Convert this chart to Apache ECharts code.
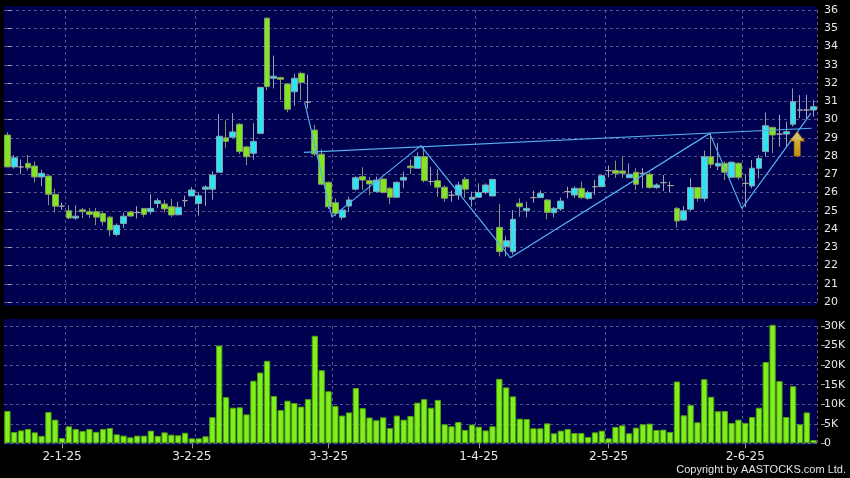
<!DOCTYPE html>
<html><head><meta charset="utf-8">
<script src="https://cdn.jsdelivr.net/npm/echarts@6/dist/echarts.min.js"></script>
<style>html,body{margin:0;padding:0;background:#000;}#c{width:850px;height:478px;}</style>
</head><body><div id="c"></div>
<script>
// ---- data ----
const open  = [29.15,27.4,27.4,27.6,27.45,26.85,26.9,25.9,25.25,25.0,24.6,25.05,24.95,24.95,24.85,24.65,23.7,24.3,24.93,24.9,
25.13,24.95,25.4,25.37,25.22,24.78,25.55,25.81,25.4,26.18,26.18,27.11,29.0,29.03,29.74,28.5,28.15,29.24,35.55,32.26,
32.3,31.95,31.52,32.53,30.95,29.42,28.1,26.56,25.44,24.64,25.26,26.18,26.87,26.65,26.05,26.74,26.23,25.74,26.68,27.45,
27.33,27.96,26.6,26.65,26.29,25.85,25.86,26.72,25.63,25.74,26.0,25.81,24.09,23.03,22.76,25.41,25.0,25.72,25.72,25.59,
24.89,25.1,26.05,25.86,26.23,25.68,26.32,26.32,27.2,27.21,27.18,26.81,27.11,27.05,27.0,26.27,26.54,26.38,25.13,24.49,
25.08,26.27,25.68,27.96,27.45,27.6,26.83,27.6,26.5,26.36,27.33,28.24,29.57,29.2,29.2,29.74,30.52,30.52,30.52];
const close = [27.4,27.9,27.4,27.35,26.85,27.05,25.9,25.25,25.25,24.6,24.7,24.95,24.8,24.65,24.4,23.95,24.2,24.7,24.71,24.9,
24.8,25.13,25.55,25.1,24.77,25.19,25.55,26.14,25.82,26.3,26.96,29.08,28.8,29.32,28.24,27.96,28.8,31.76,31.8,32.37,
32.2,30.56,32.26,32.03,30.95,28.11,26.45,25.22,24.86,25.04,25.59,26.81,26.68,26.47,26.68,26.0,25.74,26.56,26.83,27.35,
27.96,26.65,26.6,26.29,25.68,25.85,26.41,26.18,25.74,26.0,26.41,26.72,22.76,23.36,24.53,25.22,25.13,25.72,25.95,24.91,
25.13,25.53,26.05,26.23,25.72,26.0,26.32,26.92,27.2,27.05,27.05,27.0,26.45,27.05,26.27,26.41,26.54,26.38,24.44,25.0,
26.27,25.68,27.96,27.55,27.6,27.11,27.66,26.83,26.5,27.33,27.87,29.66,29.15,29.2,29.33,30.98,30.52,30.52,30.7];
const low   = [27.4,27.3,27.0,27.2,26.55,26.35,25.3,24.9,25.05,24.55,24.5,24.6,24.6,24.2,24.2,23.6,23.6,24.05,24.65,24.58,
24.65,24.8,25.15,24.9,24.65,24.75,25.22,25.8,24.73,25.26,25.6,27.1,28.45,29.0,28.1,27.5,27.8,29.2,31.6,31.7,
31.07,30.4,30.75,31.07,30.6,28.0,26.4,25.1,24.7,24.5,24.95,26.1,26.14,25.86,26.0,25.95,25.37,25.7,26.23,27.0,
27.3,26.55,26.4,25.77,25.5,25.5,25.6,25.7,25.22,25.7,25.9,25.8,22.5,22.5,22.6,24.67,24.64,25.44,25.7,24.53,
24.64,25.0,25.68,25.7,25.65,25.6,25.86,26.3,26.83,26.8,26.8,26.8,26.14,26.23,26.2,26.2,26.08,26.0,24.08,24.45,
25.0,25.5,25.5,27.33,27.23,26.68,26.8,26.7,25.2,26.23,26.78,27.96,28.16,28.51,28.5,29.61,30.07,30.0,30.15];
const high  = [29.3,28.05,27.8,28.05,27.7,27.25,26.95,26.2,25.45,25.3,25.3,25.15,25.15,25.15,24.95,24.7,24.3,24.9,25.0,25.25,
25.15,25.9,25.7,25.6,25.65,25.5,25.82,26.3,26.0,26.4,27.16,30.3,29.95,30.35,29.8,28.55,29.8,31.8,35.6,33.5,
32.35,32.0,32.5,32.62,32.45,29.7,28.37,26.6,25.68,25.1,25.77,26.9,27.38,26.85,26.87,26.8,26.3,26.6,27.14,27.8,
28.2,28.55,27.4,27.27,26.4,26.1,26.6,26.85,26.05,26.5,26.5,26.75,25.37,23.6,25.04,25.68,25.5,26.1,26.1,25.65,
25.2,25.72,26.32,26.35,26.6,26.1,26.68,27.0,27.47,27.75,27.96,27.6,27.33,27.33,27.1,26.5,26.96,26.6,25.2,25.26,
26.78,26.3,28.29,29.24,28.7,27.7,27.7,27.65,27.0,27.78,28.05,30.39,29.6,30.25,29.88,31.71,31.34,31.34,31.07];
// volume in thousands of shares
const volumeK = [8.27,2.9,3.3,3.67,2.8,1.9,8.0,6.05,1.36,4.35,3.67,3.15,3.67,2.9,3.67,3.9,2.3,1.96,1.53,1.96,
1.96,3.24,1.9,2.8,2.2,2.05,2.7,1.28,1.28,1.8,6.7,25.0,11.8,9.1,9.2,7.4,16.0,18.1,21.1,12.1,
8.5,10.9,10.3,9.4,11.3,27.5,18.7,13.3,9.55,7.1,7.9,14.15,9.0,6.6,5.9,6.65,3.9,7.1,6.05,7.0,
10.4,11.3,9.1,11.1,4.86,4.35,5.45,3.4,4.8,4.26,3.3,4.35,16.5,14.3,12.0,6.3,6.2,3.84,3.84,5.1,
2.56,3.24,3.67,2.64,2.64,1.62,2.8,3.24,1.28,4.18,4.6,2.56,4.0,4.86,5.03,3.4,3.5,2.9,15.8,7.16,
9.8,5.37,16.4,11.9,8.2,8.27,5.2,6.05,5.2,6.73,9.1,20.8,30.3,15.9,6.73,14.6,4.86,7.9,0.85];
const xTickIndex  = [8, 27, 47, 69, 88, 108];
const xTickLabels = ['2-1-25','3-2-25','3-3-25','1-4-25','2-5-25','2-6-25'];
const monthLineIndex = [9, 28, 48, 69, 88, 108];
const priceMin = 20, priceMax = 36, priceStep = 1;
const volMin = 0, volMax = 30000, volStep = 5000;
// drawn trend lines: [candle index, price]
const resistanceLine = [[43.4, 28.2], [117.7, 29.52]];
const zigzagLine = [[43.5, 30.94], [47.5, 24.65], [60.5, 28.57], [73.6, 22.43], [102.8, 29.24], [107.5, 25.13], [117.6, 30.34]];
const signalArrow = [[115.6, 28.66]];

// ---- build ----
const N = open.length;
const categories = open.map((_, i) => String(i));
const candleData = open.map((o, i) => [o, close[i], low[i], high[i]]);
const volumeData = volumeK.map(v => v * 1000);

const NAVY = '#000050';
const GRIDC = '#55558a';
const dash = { color: GRIDC, width: 1, type: [3, 3] };
const labelColor = '#e8e8e8';

const chart = echarts.init(document.getElementById('c'), null, { renderer: 'canvas' });
chart.setOption({
  animation: false,
  backgroundColor: '#000000',
  graphic: [
    { type: 'rect', z: -10, shape: { x: 4, y: 6, width: 813, height: 300 }, style: { fill: NAVY } },
    { type: 'rect', z: -10, shape: { x: 4, y: 319, width: 813, height: 126 }, style: { fill: NAVY } },
    { type: 'text', right: 4, top: 464, z: 10,
      style: { text: 'Copyright by AASTOCKS.com Ltd.', fill: '#e4e4e4', font: '11px "Liberation Sans", Arial, sans-serif' } }
  ],
  grid: [
    { left: 4, right: 33, top: 10, height: 292 },
    { left: 4, right: 33, top: 326, height: 117.3 }
  ],
  xAxis: [
    { type: 'category', gridIndex: 0, data: categories, boundaryGap: true,
      axisLine: { show: false }, axisTick: { show: false }, axisLabel: { show: false },
      splitLine: { show: true, interval: (i) => monthLineIndex.includes(i), lineStyle: dash } },
    { type: 'value', gridIndex: 0, min: -0.5, max: N - 0.5, show: false },
    { type: 'category', gridIndex: 1, data: categories, boundaryGap: true,
      axisLine: { show: false },
      axisTick: { show: true, alignWithLabel: true, length: 5, interval: (i) => xTickIndex.includes(i), lineStyle: { color: '#9a9a9a' } },
      axisLabel: { show: true, interval: (i) => xTickIndex.includes(i), margin: 8, color: labelColor,
        fontFamily: 'DejaVu Sans', fontSize: 12,
        formatter: (v, i) => { const k = xTickIndex.indexOf(Number(v)); return k >= 0 ? xTickLabels[k] : ''; } },
      splitLine: { show: true, interval: (i) => monthLineIndex.includes(i), lineStyle: dash } }
  ],
  yAxis: [
    { type: 'value', gridIndex: 0, position: 'right', offset: 4, min: priceMin, max: priceMax, interval: priceStep,
      axisLine: { show: false },
      axisTick: { show: true, length: 4, lineStyle: { color: '#a8a8a8' } },
      axisLabel: { color: labelColor, fontFamily: 'DejaVu Sans', fontSize: 11, margin: 3 },
      splitLine: { show: true, lineStyle: dash } },
    { type: 'value', gridIndex: 1, position: 'right', offset: 4, min: volMin, max: volMax, interval: volStep,
      axisLine: { show: false },
      axisTick: { show: true, length: 4, lineStyle: { color: '#a8a8a8' } },
      axisLabel: { color: labelColor, fontFamily: 'DejaVu Sans', fontSize: 11, margin: 3,
        formatter: (v) => v === 0 ? '0' : (v / 1000) + 'K' },
      splitLine: { show: true, lineStyle: dash } }
  ],
  series: [
    { type: 'candlestick', xAxisIndex: 0, yAxisIndex: 0, data: candleData, barWidth: '92%',
      itemStyle: { color: '#2ee4f2', color0: '#7fe620', borderColor: '#8aa2ac', borderColor0: '#84966c',
        borderColorDoji: '#a6a6a6', borderWidth: 1 } },
    { type: 'line', xAxisIndex: 1, yAxisIndex: 0, data: resistanceLine, symbol: 'none', silent: true, z: 5,
      lineStyle: { color: '#55aff0', width: 1.2 } },
    { type: 'line', xAxisIndex: 1, yAxisIndex: 0, data: zigzagLine, symbol: 'none', silent: true, z: 5,
      lineStyle: { color: '#55aff0', width: 1.2 } },
    { type: 'scatter', xAxisIndex: 1, yAxisIndex: 0, data: signalArrow, z: 6, silent: true,
      symbol: 'path://M7,0L14,9L10,9L10,24L4,24L4,9L0,9Z', symbolSize: [14, 24],
      itemStyle: { color: new echarts.graphic.LinearGradient(0, 0, 0, 1, [{ offset: 0, color: '#fffbb0' }, { offset: 0.5, color: '#ffd21a' }, { offset: 1, color: '#f5b000' }]),
        borderColor: '#c88000', borderWidth: 1 } },
    { type: 'bar', xAxisIndex: 2, yAxisIndex: 1, data: volumeData, barWidth: '92%', clip: false,
      itemStyle: { color: '#80f01c', borderColor: '#52a010', borderWidth: 1 } }
  ]
});
</script></body></html>
